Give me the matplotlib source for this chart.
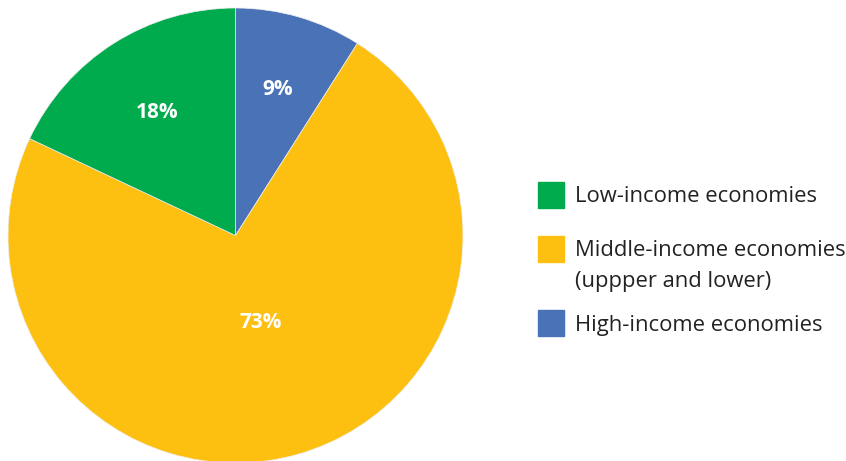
import matplotlib.pyplot as plt
import numpy as np
from matplotlib.patches import Rectangle

plt.rcParams['font.family'] = ['Open Sans', 'DejaVu Sans']

# slices, clockwise from 12 o'clock
labels = ['High-income economies', 'Middle-income economies\n(uppper and lower)', 'Low-income economies']
shares = [9, 73, 18]
colors = ['#4A72B6', '#FDC010', '#00AB4E']
label_r = [0.67, 0.40, 0.64]

# legend order top to bottom
legend_order = [2, 1, 0]
legend_y = [195, 248.5, 323]

W, H = 846, 461
fig = plt.figure(figsize=(W / 100, H / 100), dpi=100)
ax = fig.add_axes([8 / W, (H - 463) / H, 455 / W, 455 / H])

wedges, _ = ax.pie(shares, colors=colors, startangle=90, counterclock=False,
                   radius=1, wedgeprops=dict(edgecolor='#eeeeee', linewidth=0.5))
ax.set_xlim(-1, 1)
ax.set_ylim(-1, 1)
ax.set_aspect('equal')
ax.axis('off')

for w, s, r in zip(wedges, shares, label_r):
    mid = np.deg2rad((w.theta1 + w.theta2) / 2)
    ax.text(r * np.cos(mid), r * np.sin(mid), f'{s}%', ha='center', va='center',
            color='white', fontsize=15, fontweight='bold')

for i, yc in zip(legend_order, legend_y):
    fig.patches.append(Rectangle((538 / W, 1 - (yc + 13) / H), 26 / W, 26 / H,
                                 transform=fig.transFigure, color=colors[i]))
    lines = labels[i].split('\n')
    for k, line in enumerate(lines):
        fig.text(575 / W, 1 - (yc + 2 + k * 31) / H, line, ha='left', va='center',
                 fontsize=15.8, color='#222222')

fig.savefig('out.png', dpi=100)
